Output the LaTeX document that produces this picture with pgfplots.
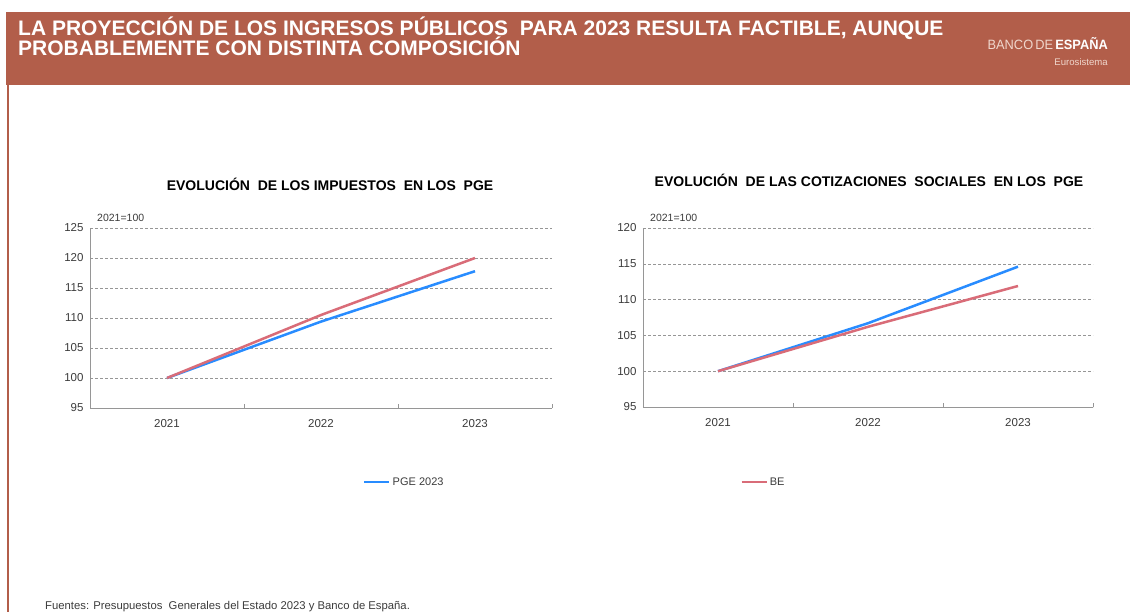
\documentclass[border=0pt]{standalone}
\usepackage{pgfplots}
\pgfplotsset{compat=1.18}
\usepackage{fontspec}
\setmainfont{Liberation Sans}

\definecolor{bdeRust}{RGB}{178,94,74}
\definecolor{lineBlue}{RGB}{40,140,255}
\definecolor{lineRed}{RGB}{217,108,120}
\definecolor{txtGray}{RGB}{60,60,60}
\definecolor{gridGray}{RGB}{150,150,150}
\definecolor{logoLight}{RGB}{240,215,205}

\pgfplotsset{
  bdechart/.style={
    scale only axis,
    xmin=-0.5, xmax=2.5,
    xtick={0,1,2},
    xticklabels={2021,2022,2023},
    major tick length=0pt,
    extra x ticks={0.5,1.5,2.5},
    extra x tick labels={},
    extra x tick style={major tick length=4pt, tick align=inside, tick style={gridGray, line width=0.6pt}},
    axis x line=bottom, axis y line=left,
    axis line style={-, gridGray, line width=0.8pt},
    ymajorgrids,
    grid style={gridGray, dash pattern=on 3pt off 2pt, line width=0.6pt},
    tick label style={font=\fontsize{11.5}{13}\selectfont, text=txtGray},
    yticklabel style={xshift=-3pt},
    xticklabel style={yshift=-8pt},
    /pgf/number format/assume math mode=true,
    legend style={draw=none, fill=none, inner sep=0pt, anchor=west,
      font=\fontsize{11}{13}\selectfont, text=txtGray},
    legend image code/.code={\draw[#1, line width=2.5pt] (0pt,0pt) -- (25pt,0pt);},
  }
}

\begin{document}
\begin{tikzpicture}
\path[use as bounding box, fill=white] (0pt,0pt) rectangle (1130pt,-612pt);

% cabecera
\fill[bdeRust] (6pt,-12pt) rectangle (1130pt,-85pt);
\fill[bdeRust] (6.5pt,-85pt) rectangle (8.5pt,-612pt);
\node[anchor=base west, inner sep=0pt, text=white] at (18pt,-36pt)
  {\fontsize{21}{24}\selectfont\bfseries LA PROYECCIÓN DE LOS INGRESOS PÚBLICOS\ \ PARA 2023 RESULTA FACTIBLE, AUNQUE};
\node[anchor=base west, inner sep=0pt, text=white] at (18pt,-56pt)
  {\fontsize{21}{24}\selectfont\bfseries PROBABLEMENTE CON DISTINTA COMPOSICIÓN};
\node[anchor=base east, inner sep=0pt, xscale=0.95] at (1108pt,-50pt)
  {\fontsize{13.5}{15}\selectfont\textcolor{logoLight}{BANCO\,DE}\,\textcolor{white}{\bfseries ESPAÑA}};
\node[anchor=base east, inner sep=0pt, text=logoLight] at (1108pt,-66pt)
  {\fontsize{9.6}{11}\selectfont Eurosistema};

% titulos
\node[text=black] at (330pt,-184pt) {\fontsize{14}{16}\selectfont\bfseries EVOLUCIÓN\ \ DE LOS IMPUESTOS\ \ EN LOS\ \ PGE};
\node[text=black] at (869pt,-180pt) {\fontsize{14}{16}\selectfont\bfseries EVOLUCIÓN\ \ DE LAS COTIZACIONES\ \ SOCIALES\ \ EN LOS\ \ PGE};
\node[anchor=west, inner sep=0pt, text=txtGray] at (97pt,-218pt) {\fontsize{10.5}{12}\selectfont 2021=100};
\node[anchor=west, inner sep=0pt, text=txtGray] at (650pt,-218pt) {\fontsize{10.5}{12}\selectfont 2021=100};

% impuestos
\begin{axis}[bdechart, at={(90pt,-408pt)}, anchor=south west,
  width=462pt, height=180pt,
  ymin=95, ymax=125, ytick={95,100,...,125},
  legend style={at={(0.591,-0.411)}}]
\addplot[lineBlue, line width=2.5pt] coordinates {(0,100) (1,109.4) (2,117.8)};
\addlegendentry{PGE 2023}
\addplot[lineRed, line width=2.5pt, forget plot] coordinates {(0,100) (1,110.5) (2,120.0)};
\end{axis}

% cotizaciones
\begin{axis}[bdechart, at={(643pt,-407pt)}, anchor=south west,
  width=450pt, height=179pt,
  ymin=95, ymax=120, ytick={95,100,...,120},
  legend style={at={(0.216,-0.419)}}]
\addplot[lineBlue, line width=2.5pt, forget plot] coordinates {(0,100) (1,106.7) (2,114.6)};
\addplot[lineRed, line width=2.5pt] coordinates {(0,100) (1,106.2) (2,111.9)};
\addlegendentry{BE}
\end{axis}

% fuente
\node[anchor=base west, inner sep=0pt, text=txtGray] at (45pt,-609pt)
  {\fontsize{11.3}{13}\selectfont Fuentes: Presupuestos\ \ Generales del Estado 2023 y Banco de España.};
\end{tikzpicture}
\end{document}
